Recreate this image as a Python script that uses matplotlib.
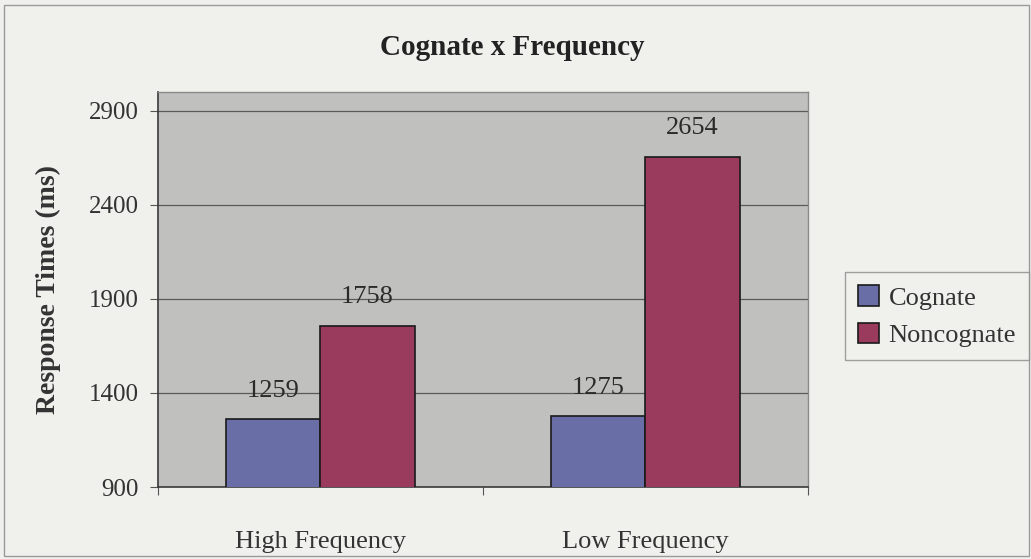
import matplotlib.pyplot as plt
import numpy as np
from matplotlib.patches import Rectangle

# Mean response times (ms) by word frequency and cognate status
categories = ["High Frequency", "Low Frequency"]
cognate = [1259, 1275]
noncognate = [1758, 2654]
series_names = ["Cognate", "Noncognate"]
y_ticks = [900, 1400, 1900, 2400, 2900]

plt.rcParams['font.family'] = ['Liberation Serif', 'DejaVu Serif']

bg = "#f0f1ec"
fig = plt.figure(figsize=(10.31, 5.59), dpi=100, facecolor=bg)
ax = fig.add_axes([0.1532, 0.1288, 0.6305, 0.7066])
ax.set_facecolor("#c0c0bf")

x = np.arange(len(categories))
w = 0.29
b1 = ax.bar(x - w / 2, cognate, w, color="#6a6ea6", edgecolor="#1a1a1a", linewidth=1.2,
            label=series_names[0], zorder=3)
b2 = ax.bar(x + w / 2, noncognate, w, color="#9a3a5c", edgecolor="#1a1a1a", linewidth=1.2,
            label=series_names[1], zorder=3)

for bars, vals in ((b1, cognate), (b2, noncognate)):
    for r, v in zip(bars, vals):
        ax.text(r.get_x() + r.get_width() / 2, v + 95, str(v), ha="center", va="bottom",
                fontsize=19, color="#2a2a2a", zorder=4)

ax.set_xlim(-0.5, 1.5)
ax.set_ylim(900, 3000)
ax.set_yticks(y_ticks)
ax.set_yticklabels([str(t) for t in y_ticks], fontsize=18, color="#333333")
ax.yaxis.grid(True, color="#5a5a5a", linewidth=0.9, zorder=1)
ax.set_axisbelow(True)

# category ticks sit between groups; labels centred under each group
ax.set_xticks([-0.5, 0.5, 1.5])
ax.set_xticklabels([])
ax.set_xticks(x, minor=True)
ax.set_xticklabels(categories, minor=True, fontsize=19, color="#333333")
ax.tick_params(axis="x", which="minor", length=0, pad=32)
ax.tick_params(axis="x", which="major", length=6, color="#555555")
ax.tick_params(axis="y", length=6, color="#555555", pad=8)

for side in ("left", "bottom"):
    ax.spines[side].set_color("#3a3a3a")
    ax.spines[side].set_linewidth(1.2)
for side in ("top", "right"):
    ax.spines[side].set_color("#8a8a8a")
    ax.spines[side].set_linewidth(1.0)

ax.set_ylabel("Response Times (ms)", fontsize=20, fontweight="bold", color="#333333", labelpad=20)
fig.text(0.497, 0.915, "Cognate x Frequency", ha="center", va="center",
         fontsize=21, fontweight="bold", color="#222222")

leg = fig.legend(loc="upper left", bbox_to_anchor=(0.8196, 0.354, 0.1784, 0.159),
                 mode="expand", fontsize=19, frameon=True, fancybox=False,
                 handlelength=0.8, handleheight=0.8, handletextpad=0.35,
                 borderpad=0.5, labelspacing=0.5, borderaxespad=0)
leg.get_frame().set_edgecolor("#8a8a8a")
leg.get_frame().set_facecolor(bg)
leg.get_frame().set_linewidth(1.0)
for t in leg.get_texts():
    t.set_color("#333333")

fig.patches.append(Rectangle((0.004, 0.006), 0.994, 0.985, transform=fig.transFigure,
                             fill=False, edgecolor="#9a9a9a", linewidth=1.0))

fig.savefig("out.png", dpi=100, facecolor=bg)
